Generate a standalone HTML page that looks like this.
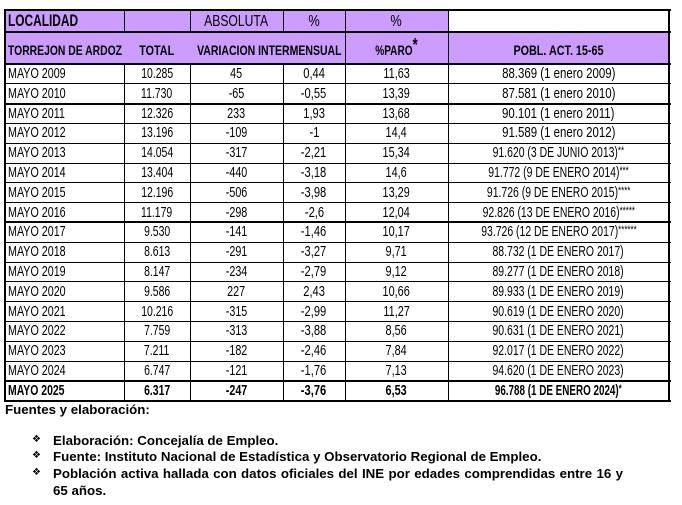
<!DOCTYPE html>
<html><head><meta charset="utf-8">
<style>
*{margin:0;padding:0;box-sizing:border-box}
body{width:682px;height:505px;background:#fff;position:relative;overflow:hidden;font-family:"Liberation Sans",Arial,sans-serif;color:#000}
.bg{position:absolute;background:#cc9cff}
.h{position:absolute;left:4px;width:667px;height:1px;background:#000}
.H{position:absolute;left:4px;width:667px;height:2px;background:#000}
.v{position:absolute;width:1px;background:#000}
.r{position:absolute;left:5px;width:664px;height:20px;font-size:14.5px}
.c{position:absolute;top:0;height:100%;display:flex;align-items:center;justify-content:center;white-space:nowrap}
.c1{left:0;width:119px;justify-content:flex-start;padding-left:3px}
.c2{left:119px;width:66px}
.c3{left:185px;width:93px}
.c4{left:278px;width:62px}
.c5{left:340px;width:103px}
.c6{left:443px;width:221px}
.m{display:inline-block;transform:scaleX(.74);transform-origin:left center}
.n2{display:inline-block;transform:scaleX(.72)}
.n3{display:inline-block;transform:scaleX(.74)}
.n4{display:inline-block;transform:scaleX(.77)}
.n5{display:inline-block;transform:scaleX(.75)}
.w{display:inline-block;transform:scaleX(.79)}
.u{display:inline-block;transform:scaleX(.72)}
.ub{display:inline-block;transform:scaleX(.68)}
.st{font-size:11px;vertical-align:3px}
.b{font-weight:bold}
.hd{position:absolute;display:flex;align-items:center;justify-content:center;white-space:nowrap}
.foot{position:absolute;font-weight:bold;font-size:13.3px;white-space:nowrap}
.bul{position:absolute;left:32px;font-size:10px;font-family:"DejaVu Sans",sans-serif;font-weight:normal}
</style></head><body>

<div class="bg" style="left:5px;top:10px;width:664px;height:54px"></div>
<div style="position:absolute;left:448px;top:10px;width:221px;height:22px;background:#fff"></div>

<!-- header row 1 -->
<div class="hd" style="left:8px;top:10px;height:22px;font-size:17px;font-weight:bold;justify-content:flex-start"><span style="display:inline-block;transform:scaleX(.70);transform-origin:left center">LOCALIDAD</span></div>
<div class="hd" style="left:190px;top:11px;width:93px;height:22px;font-size:16px"><span style="display:inline-block;transform:scaleX(.76)">ABSOLUTA</span></div>
<div class="hd" style="left:283px;top:11px;width:62px;height:22px;font-size:16px"><span style="display:inline-block;transform:scaleX(.8)">%</span></div>
<div class="hd" style="left:345px;top:11px;width:103px;height:22px;font-size:16px"><span style="display:inline-block;transform:scaleX(.8)">%</span></div>

<!-- header row 2 -->
<div class="hd" style="left:8px;top:34px;height:32px;font-size:14px;font-weight:bold;justify-content:flex-start"><span style="display:inline-block;transform:scaleX(.74);transform-origin:left center">TORREJON DE ARDOZ</span></div>
<div class="hd" style="left:124px;top:34px;width:66px;height:32px;font-size:14px;font-weight:bold"><span style="display:inline-block;transform:scaleX(.77)">TOTAL</span></div>
<div class="hd" style="left:190px;top:34px;width:158px;height:32px;font-size:14px;font-weight:bold"><span style="display:inline-block;transform:scaleX(.75)">VARIACION INTERMENSUAL</span></div>
<div class="hd" style="left:345px;top:34px;width:103px;height:32px;font-size:14px;font-weight:bold;line-height:16px"><span style="display:inline-block;transform:scaleX(.72)">%PARO<span style="font-size:18px;position:relative;top:-4px;line-height:0">*</span></span></div>
<div class="hd" style="left:448px;top:34px;width:221px;height:32px;font-size:14px;font-weight:bold"><span style="display:inline-block;transform:scaleX(.77)">POBL. ACT. 15-65</span></div>

<!-- data rows -->
<div class="r" style="top:64px"><div class="c c1"><span class="m">MAYO 2009</span></div><div class="c c2"><span class="n2">10.285</span></div><div class="c c3"><span class="n3">45</span></div><div class="c c4"><span class="n4">0,44</span></div><div class="c c5"><span class="n5">11,63</span></div><div class="c c6"><span class="w">88.369 (1 enero 2009)</span></div></div>
<div class="r" style="top:83.8px"><div class="c c1"><span class="m">MAYO 2010</span></div><div class="c c2"><span class="n2">11.730</span></div><div class="c c3"><span class="n3">-65</span></div><div class="c c4"><span class="n4">-0,55</span></div><div class="c c5"><span class="n5">13,39</span></div><div class="c c6"><span class="w">87.581 (1 enero 2010)</span></div></div>
<div class="r" style="top:103.6px"><div class="c c1"><span class="m">MAYO 2011</span></div><div class="c c2"><span class="n2">12.326</span></div><div class="c c3"><span class="n3">233</span></div><div class="c c4"><span class="n4">1,93</span></div><div class="c c5"><span class="n5">13,68</span></div><div class="c c6"><span class="w">90.101 (1 enero 2011)</span></div></div>
<div class="r" style="top:123.4px"><div class="c c1"><span class="m">MAYO 2012</span></div><div class="c c2"><span class="n2">13.196</span></div><div class="c c3"><span class="n3">-109</span></div><div class="c c4"><span class="n4">-1</span></div><div class="c c5"><span class="n5">14,4</span></div><div class="c c6"><span class="w">91.589 (1 enero 2012)</span></div></div>
<div class="r" style="top:143.2px"><div class="c c1"><span class="m">MAYO 2013</span></div><div class="c c2"><span class="n2">14.054</span></div><div class="c c3"><span class="n3">-317</span></div><div class="c c4"><span class="n4">-2,21</span></div><div class="c c5"><span class="n5">15,34</span></div><div class="c c6"><span class="u">91.620 (3 DE JUNIO 2013)<span class="st">**</span></span></div></div>
<div class="r" style="top:163px"><div class="c c1"><span class="m">MAYO 2014</span></div><div class="c c2"><span class="n2">13.404</span></div><div class="c c3"><span class="n3">-440</span></div><div class="c c4"><span class="n4">-3,18</span></div><div class="c c5"><span class="n5">14,6</span></div><div class="c c6"><span class="u">91.772 (9 DE ENERO 2014)<span class="st">***</span></span></div></div>
<div class="r" style="top:182.8px"><div class="c c1"><span class="m">MAYO 2015</span></div><div class="c c2"><span class="n2">12.196</span></div><div class="c c3"><span class="n3">-506</span></div><div class="c c4"><span class="n4">-3,98</span></div><div class="c c5"><span class="n5">13,29</span></div><div class="c c6"><span class="u">91.726 (9 DE ENERO 2015)<span class="st">****</span></span></div></div>
<div class="r" style="top:202.6px"><div class="c c1"><span class="m">MAYO 2016</span></div><div class="c c2"><span class="n2">11.179</span></div><div class="c c3"><span class="n3">-298</span></div><div class="c c4"><span class="n4">-2,6</span></div><div class="c c5"><span class="n5">12,04</span></div><div class="c c6"><span class="u">92.826 (13 DE ENERO 2016)<span class="st">*****</span></span></div></div>
<div class="r" style="top:222.4px"><div class="c c1"><span class="m">MAYO 2017</span></div><div class="c c2"><span class="n2">9.530</span></div><div class="c c3"><span class="n3">-141</span></div><div class="c c4"><span class="n4">-1,46</span></div><div class="c c5"><span class="n5">10,17</span></div><div class="c c6"><span class="u">93.726 (12 DE ENERO 2017)<span class="st">******</span></span></div></div>
<div class="r" style="top:242.2px"><div class="c c1"><span class="m">MAYO 2018</span></div><div class="c c2"><span class="n2">8.613</span></div><div class="c c3"><span class="n3">-291</span></div><div class="c c4"><span class="n4">-3,27</span></div><div class="c c5"><span class="n5">9,71</span></div><div class="c c6"><span class="u">88.732 (1 DE ENERO 2017)</span></div></div>
<div class="r" style="top:262px"><div class="c c1"><span class="m">MAYO 2019</span></div><div class="c c2"><span class="n2">8.147</span></div><div class="c c3"><span class="n3">-234</span></div><div class="c c4"><span class="n4">-2,79</span></div><div class="c c5"><span class="n5">9,12</span></div><div class="c c6"><span class="u">89.277 (1 DE ENERO 2018)</span></div></div>
<div class="r" style="top:281.8px"><div class="c c1"><span class="m">MAYO 2020</span></div><div class="c c2"><span class="n2">9.586</span></div><div class="c c3"><span class="n3">227</span></div><div class="c c4"><span class="n4">2,43</span></div><div class="c c5"><span class="n5">10,66</span></div><div class="c c6"><span class="u">89.933 (1 DE ENERO 2019)</span></div></div>
<div class="r" style="top:301.6px"><div class="c c1"><span class="m">MAYO 2021</span></div><div class="c c2"><span class="n2">10.216</span></div><div class="c c3"><span class="n3">-315</span></div><div class="c c4"><span class="n4">-2,99</span></div><div class="c c5"><span class="n5">11,27</span></div><div class="c c6"><span class="u">90.619 (1 DE ENERO 2020)</span></div></div>
<div class="r" style="top:321.4px"><div class="c c1"><span class="m">MAYO 2022</span></div><div class="c c2"><span class="n2">7.759</span></div><div class="c c3"><span class="n3">-313</span></div><div class="c c4"><span class="n4">-3,88</span></div><div class="c c5"><span class="n5">8,56</span></div><div class="c c6"><span class="u">90.631 (1 DE ENERO 2021)</span></div></div>
<div class="r" style="top:341.2px"><div class="c c1"><span class="m">MAYO 2023</span></div><div class="c c2"><span class="n2">7.211</span></div><div class="c c3"><span class="n3">-182</span></div><div class="c c4"><span class="n4">-2,46</span></div><div class="c c5"><span class="n5">7,84</span></div><div class="c c6"><span class="u">92.017 (1 DE ENERO 2022)</span></div></div>
<div class="r" style="top:361px"><div class="c c1"><span class="m">MAYO 2024</span></div><div class="c c2"><span class="n2">6.747</span></div><div class="c c3"><span class="n3">-121</span></div><div class="c c4"><span class="n4">-1,76</span></div><div class="c c5"><span class="n5">7,13</span></div><div class="c c6"><span class="u">94.620 (1 DE ENERO 2023)</span></div></div>
<div class="r b" style="top:380.8px"><div class="c c1"><span class="m" style="transform:scaleX(.72)">MAYO 2025</span></div><div class="c c2"><span class="n2">6.317</span></div><div class="c c3"><span class="n3">-247</span></div><div class="c c4"><span class="n4">-3,76</span></div><div class="c c5"><span class="n5">6,53</span></div><div class="c c6"><span class="ub">96.788 (1 DE ENERO 2024)<span class="st">*</span></span></div></div>

<!-- horizontal lines -->
<div class="H" style="top:9px"></div>
<div class="H" style="top:31px"></div>
<div class="H" style="top:63px"></div>
<div class="h" style="top:83.3px"></div>
<div class="H" style="top:102.6px"></div>
<div class="h" style="top:122.9px"></div>
<div class="h" style="top:142.7px"></div>
<div class="h" style="top:162.5px"></div>
<div class="h" style="top:182.3px"></div>
<div class="h" style="top:202.1px"></div>
<div class="H" style="top:221.4px"></div>
<div class="h" style="top:241.7px"></div>
<div class="h" style="top:261.5px"></div>
<div class="h" style="top:281.3px"></div>
<div class="h" style="top:301.1px"></div>
<div class="h" style="top:320.9px"></div>
<div class="h" style="top:340.7px"></div>
<div class="h" style="top:360.5px"></div>
<div class="H" style="top:379.8px"></div>
<div class="H" style="top:399.6px"></div>

<!-- vertical lines -->
<div class="v" style="left:4px;top:9px;height:393px;width:2px"></div>
<div class="v" style="left:124px;top:9px;height:23px"></div>
<div class="v" style="left:124px;top:63px;height:338px"></div>
<div class="v" style="left:190px;top:9px;height:23px"></div>
<div class="v" style="left:190px;top:63px;height:338px"></div>
<div class="v" style="left:283px;top:9px;height:23px"></div>
<div class="v" style="left:283px;top:63px;height:338px"></div>
<div class="v" style="left:345px;top:9px;height:392px"></div>
<div class="v" style="left:448px;top:9px;height:392px"></div>
<div class="v" style="left:668px;top:9px;height:393px;width:2px"></div>

<!-- footer -->
<div class="foot" style="left:5px;top:402px">Fuentes y elaboración:</div>
<div class="bul" style="top:434px">❖</div>
<div class="foot" style="left:53px;top:433px">Elaboración: Concejalía de Empleo.</div>
<div class="bul" style="top:450px">❖</div>
<div class="foot" style="left:53px;top:449px">Fuente: Instituto Nacional de Estadística y Observatorio Regional de Empleo.</div>
<div class="bul" style="top:467px">❖</div>
<div class="foot" style="left:53px;top:466px;width:570px;text-align:justify;text-align-last:justify;white-space:normal">Población activa hallada con datos oficiales del INE por edades comprendidas entre 16 y</div>
<div class="foot" style="left:53px;top:483px">65 años.</div>

</body></html>
